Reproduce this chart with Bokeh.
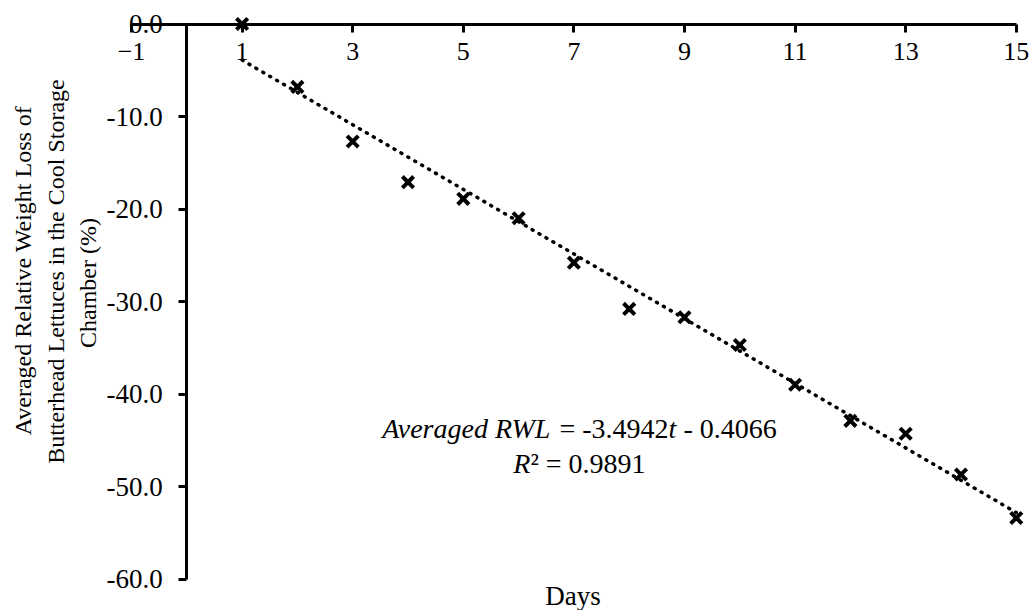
import math
from bokeh.plotting import figure
from bokeh.models import LinearAxis, FixedTicker, Label, Range1d, NumeralTickFormatter
from bokeh.embed import file_html
from bokeh.resources import INLINE

# ---- data ----
days = [1, 2, 3, 4, 5, 6, 7, 8, 9, 10, 11, 12, 13, 14, 15]
rwl = [0.0, -6.8, -12.7, -17.1, -18.9, -21.0, -25.8, -30.8, -31.7, -34.7,
       -39.0, -42.9, -44.3, -48.7, -53.4]
x_ticks = [-1, 1, 3, 5, 7, 9, 11, 13, 15]
y_ticks = [0, -10, -20, -30, -40, -50, -60]
x_bounds = (-1, 15)
y_bounds = (-60, 0)
fit_slope = -3.4942
fit_intercept = -0.4066
fit_r2 = 0.9891

y_title_lines = ["Averaged Relative  Weight Loss of",
                 "Butterhead Lettuces in the Cool Storage",
                 "Chamber (%)"]
x_title = "Days"

FONT = "Liberation Serif"

# the frame covers the whole canvas so that the axis and title texts are not clipped
p = figure(width=1030, height=610, x_range=Range1d(-3.369, 15.257), y_range=Range1d(-63.405, 2.541),
           output_backend="svg", toolbar_location=None,
           x_axis_location=None, y_axis_location=None,
           min_border_left=0, min_border_right=0, min_border_top=0, min_border_bottom=0)
p.title.visible = False
p.outline_line_color = None
p.grid.visible = False
p.background_fill_color = "white"
p.border_fill_color = "white"

def style_axis(ax, size):
    ax.axis_line_width = 3
    ax.axis_line_color = "black"
    ax.major_tick_line_width = 3
    ax.major_tick_line_color = "black"
    ax.major_tick_in = 0
    ax.major_tick_out = 8
    ax.minor_tick_line_color = None
    ax.major_label_text_font = FONT
    ax.major_label_text_font_size = size
    ax.major_label_text_color = "black"

xaxis = LinearAxis(fixed_location=0, bounds=x_bounds, ticker=FixedTicker(ticks=x_ticks))
style_axis(xaxis, "26px")
xaxis.major_label_standoff = 11
p.add_layout(xaxis, "below")

yaxis = LinearAxis(fixed_location=0, bounds=y_bounds, ticker=FixedTicker(ticks=y_ticks),
                   formatter=NumeralTickFormatter(format="0.0"))
style_axis(yaxis, "27px")
yaxis.major_label_standoff = 16
p.add_layout(yaxis, "left")

# trendline from the displayed regression equation
t_fit = [days[0], days[-1]]
y_fit = [fit_slope * t + fit_intercept for t in t_fit]
p.line(t_fit, y_fit, line_color="black", line_width=3.5, line_dash="1 7", line_cap="round")

p.scatter(days, rwl, marker="x", size=16, line_width=4, line_color="black")

# y-axis title (three lines, rotated)
for txt, xd, yd in zip(y_title_lines, [-2.97, -2.374, -1.778], [-26.32, -26.76, -28.0]):
    p.add_layout(Label(x=xd, y=yd, text=txt, angle=math.pi / 2, text_align="center",
                       text_baseline="middle", text_font=FONT, text_font_size="24px",
                       text_color="black"))

# x-axis title
p.add_layout(Label(x=6.984, y=-61.8, text=x_title, text_align="center",
                   text_baseline="alphabetic", text_font=FONT, text_font_size="27px",
                   text_color="black"))

# regression annotation
cx = 7.101
eq_pieces = [("Averaged RWL", "italic", -197.3),
             ("= %.4f" % fit_slope, "normal", -20.0),
             ("t", "italic", 89.1),
             ("- %.4f" % abs(fit_intercept), "normal", 103.9)]
for txt, style, off in eq_pieces:
    p.add_layout(Label(x=cx, y=-43.75, x_offset=off, text=txt, text_align="left",
                       text_baseline="alphabetic", text_font=FONT, text_font_size="28px",
                       text_font_style=style, text_color="black"))
r2_pieces = [("R", "italic", -66.2), ("\u00b2 = %.4f" % fit_r2, "normal", -49.1)]
for txt, style, off in r2_pieces:
    p.add_layout(Label(x=cx, y=-47.55, x_offset=off, text=txt, text_align="left",
                       text_baseline="alphabetic", text_font=FONT, text_font_size="28px",
                       text_font_style=style, text_color="black"))

open("out.html", "w").write(file_html(p, INLINE))
